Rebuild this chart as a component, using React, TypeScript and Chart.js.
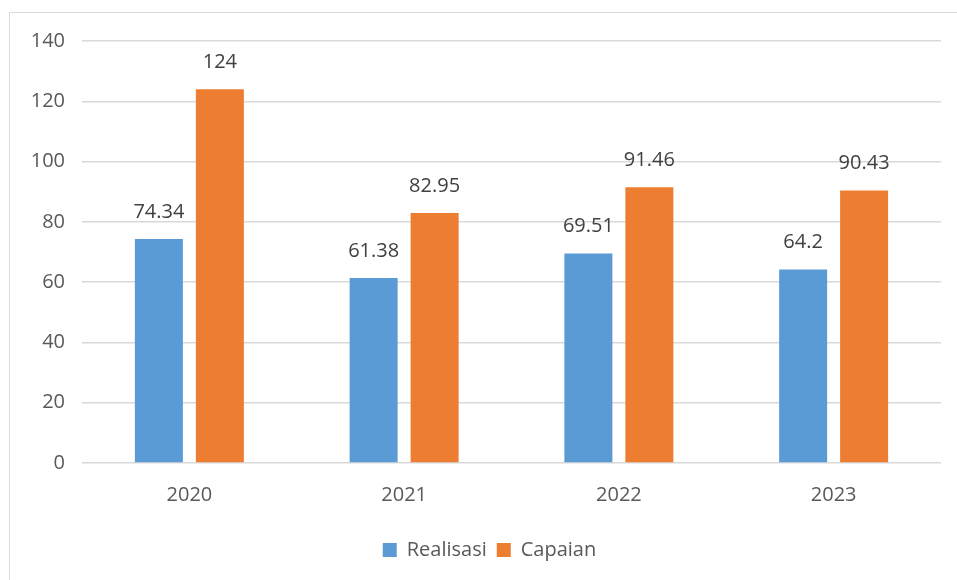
import React, { useEffect, useRef } from "react";
import { Chart, registerables } from "chart.js";

Chart.register(...registerables);

const categories = ["2020", "2021", "2022", "2023"];
const realisasi = [74.34, 61.38, 69.51, 64.2];
const capaian = [124, 82.95, 91.46, 90.43];
const seriesNames = ["Realisasi", "Capaian"];
const yTicks = [0, 20, 40, 60, 80, 100, 120, 140];

const FONT = "'Open Sans', 'Noto Sans', sans-serif";

const labelPlugin = {
  id: "barValueLabels",
  afterLayout(chart: any) {
    if (chart.legend) {
      chart.legend.left = 38;
    }
  },
  afterDatasetsDraw(chart: any) {
    const ctx = chart.ctx;
    ctx.save();
    ctx.font = `20px ${FONT}`;
    ctx.fillStyle = "#404040";
    ctx.textAlign = "center";
    ctx.textBaseline = "alphabetic";
    chart.data.datasets.forEach((ds: any, i: number) => {
      const meta = chart.getDatasetMeta(i);
      meta.data.forEach((bar: any, j: number) => {
        const v = ds.data[j];
        ctx.fillText(String(v), bar.x, bar.y - 21);
      });
    });
    ctx.restore();
  },
};

export default function App() {
  const ref = useRef<HTMLCanvasElement | null>(null);
  useEffect(() => {
    if (!ref.current) return;
    const chart = new Chart(ref.current, {
      type: "bar",
      data: {
        labels: categories,
        datasets: [
          {
            label: seriesNames[0],
            data: realisasi,
            backgroundColor: "#5B9BD5",
            categoryPercentage: 0.568,
            barPercentage: 0.787,
          },
          {
            label: seriesNames[1],
            data: capaian,
            backgroundColor: "#ED7D31",
            categoryPercentage: 0.568,
            barPercentage: 0.787,
          },
        ],
      },
      options: {
        animation: false,
        responsive: false,
        devicePixelRatio: 1,
        layout: { padding: { left: 0, right: 16, top: 41, bottom: 10 } },
        plugins: {
          legend: {
            position: "bottom",
            labels: {
              font: { family: FONT, size: 20 },
              color: "#595959",
              boxWidth: 14,
              boxHeight: 14,
              padding: 10,
            },
          },
          tooltip: { enabled: false },
        },
        scales: {
          x: {
            grid: { display: false, drawTicks: false },
            border: { display: false },
            ticks: { font: { family: FONT, size: 20 }, color: "#595959", padding: 20 },
            afterFit(scale: any) {
              scale.height = 67;
            },
          },
          y: {
            min: 0,
            max: 140,
            afterBuildTicks(scale: any) {
              scale.ticks = yTicks.map((v) => ({ value: v }));
            },
            grid: { color: "#d9d9d9", lineWidth: 1.5, drawTicks: false },
            border: { display: false },
            ticks: { font: { family: FONT, size: 20 }, color: "#595959", padding: 17 },
            afterFit(scale: any) {
              scale.width = 82;
            },
          },
        },
      },
      plugins: [labelPlugin],
    });
    return () => chart.destroy();
  }, []);
  return (
    <>
      <div
        style={{
          position: "fixed",
          left: 9,
          top: 12,
          width: 1000,
          height: 700,
          border: "1px solid #d9d9d9",
          boxSizing: "border-box",
        }}
      />
      <canvas
        ref={ref}
        width={957}
        height={580}
        style={{ position: "fixed", left: 0, top: 0, width: 957, height: 580 }}
      />
    </>
  );
}
